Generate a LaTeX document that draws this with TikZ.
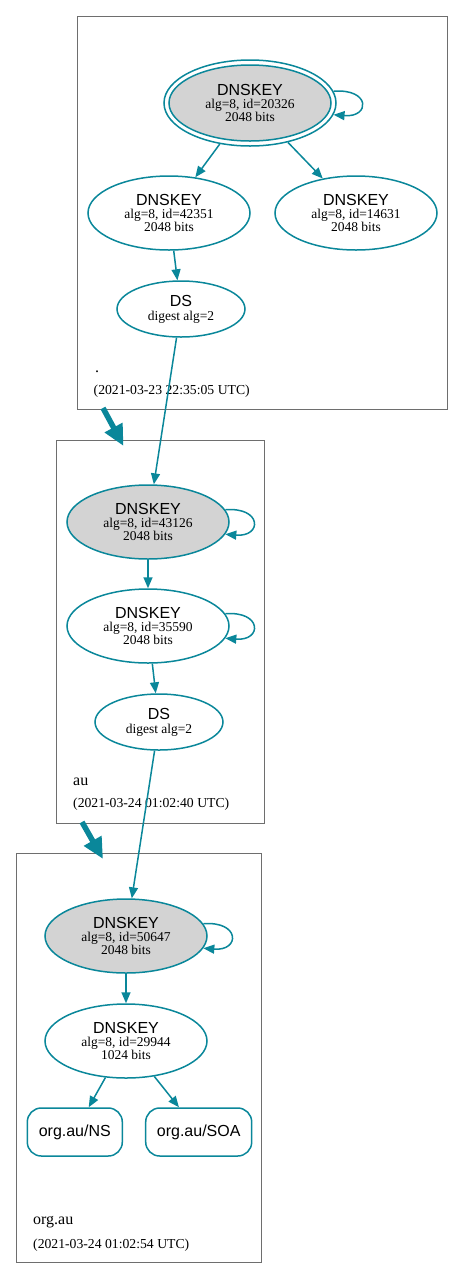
\documentclass[tikz,border=0pt]{standalone}
\usepackage{fontspec}
\setmainfont{Liberation Serif}
\setsansfont{Liberation Sans}
\usetikzlibrary{arrows.meta,shapes.geometric}
\definecolor{dnsteal}{HTML}{0A879A}
\definecolor{ksgray}{HTML}{D3D3D3}
\definecolor{clgray}{HTML}{6E6E6E}
\newcommand{\dk}[2]{{\fontsize{16}{16}\selectfont\sffamily DNSKEY}\\alg=8, id=#1\\#2 bits}
\newcommand{\dsl}{{\fontsize{16}{16}\selectfont\sffamily DS}\\digest alg=2}
\tikzset{
  keynode/.style={ellipse, draw=dnsteal, line width=1.5pt, minimum width=162pt, minimum height=74pt,
    inner sep=0pt, align=center, font=\fontsize{13.5}{13}\selectfont},
  ksknode/.style={keynode, fill=ksgray},
  dsnode/.style={ellipse, draw=dnsteal, line width=1.5pt, minimum width=128pt, minimum height=56pt,
    inner sep=0pt, align=center, font=\fontsize{13.5}{14}\selectfont},
  rrnode/.style={rectangle, rounded corners=14pt, draw=dnsteal, line width=1.5pt, minimum height=48pt,
    inner sep=0pt, font=\fontsize{16}{16}\selectfont\sffamily},
  edge/.style={draw=dnsteal, line width=1.5pt, -{Triangle[length=11pt,width=9pt]}},
  zonearrow/.style={draw=dnsteal, line width=5.5pt, -{Triangle[length=21pt,width=19pt]}},
  cluster/.style={draw=clgray, line width=0.9pt},
  zonelabel/.style={anchor=base west, inner sep=0pt, font=\fontsize{16}{16}\selectfont},
  datelabel/.style={anchor=base west, inner sep=0pt, font=\fontsize{13.7}{14}\selectfont},
}
\begin{document}
\begin{tikzpicture}[x=1pt,y=-1pt]
\useasboundingbox (0,0) rectangle (464,1278);
% clusters
\draw[cluster] (77,16) rectangle (447,409);
\draw[cluster] (56,440) rectangle (264,823);
\draw[cluster] (16,853) rectangle (261,1262);
% root zone
\node[ellipse, draw=dnsteal, line width=1.5pt, minimum width=172pt, minimum height=86pt, inner sep=0pt] (k1) at (250,103) {};
\node[ksknode, minimum width=162pt, minimum height=76pt] (k1in) at (250,103) {\dk{20326}{2048}};
\node[keynode] (k2) at (169,213) {\dk{42351}{2048}};
\node[keynode] (k3) at (356,213) {\dk{14631}{2048}};
\node[dsnode] (ds1) at (181,309) {\dsl};
\node[zonelabel] (z1) at (95,372) {.};
\node[datelabel] (d1) at (93.5,394) {(2021-03-23 22:35:05 UTC)};
% au zone
\node[ksknode] (k4) at (148,522) {\dk{43126}{2048}};
\node[keynode] (k5) at (148,626) {\dk{35590}{2048}};
\node[dsnode] (ds2) at (159,722) {\dsl};
\node[zonelabel] (z2) at (73,785) {au};
\node[datelabel] (d2) at (73,807) {(2021-03-24 01:02:40 UTC)};
% org.au zone
\node[ksknode] (k6) at (126,936) {\dk{50647}{2048}};
\node[keynode] (k7) at (126,1041) {\dk{29944}{1024}};
\node[rrnode, minimum width=95pt] (ns) at (74.8,1132) {org.au/NS};
\node[rrnode, minimum width=106pt] (soa) at (198.7,1132) {org.au/SOA};
\node[zonelabel] (z3) at (33,1224) {org.au};
\node[datelabel] (d3) at (33,1248) {(2021-03-24 01:02:54 UTC)};
% edges
\draw[edge] (k1) -- (k2);
\draw[edge] (k1) -- (k3);
\draw[edge] (k2) -- (ds1);
\draw[edge] (ds1) -- (k4);
\draw[edge] (k4) -- (k5);
\draw[edge] (k5) -- (ds2);
\draw[edge] (ds2) -- (k6);
\draw[edge] (k6) -- (k7);
\draw[edge] (k7) -- (ns);
\draw[edge] (k7) -- (soa);
% self loops
\draw[edge] (k1.8) .. controls +(37,-3) and +(37,3) .. (k1.-8);
\draw[edge] (k4.9) .. controls +(37,-3) and +(37,3) .. (k4.-9);
\draw[edge] (k5.9) .. controls +(37,-3) and +(37,3) .. (k5.-9);
\draw[edge] (k6.9) .. controls +(37,-3) and +(37,3) .. (k6.-9);
% zone delegation arrows
\coordinate (za1) at (103,408);
\coordinate (zb1) at (123.5,446);
\coordinate (za2) at (82,822);
\coordinate (zb2) at (103,859);
\draw[zonearrow] (za1) -- (zb1);
\draw[zonearrow] (za2) -- (zb2);
\end{tikzpicture}
\end{document}
